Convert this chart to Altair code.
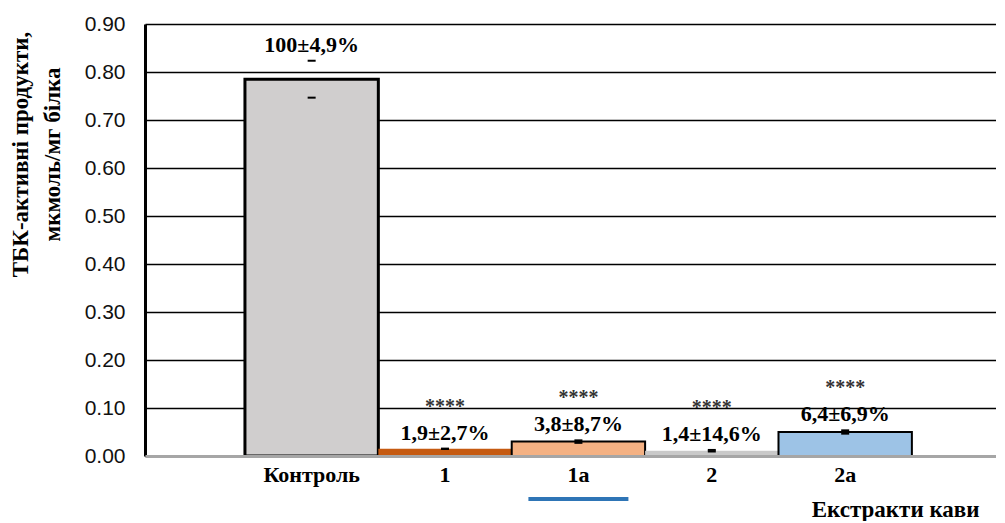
import altair as alt
import pandas as pd

categories = ["Контроль", "1", "1а", "2", "2а"]
values = [0.785, 0.015, 0.030, 0.011, 0.050]
err_pct = [4.9, 2.7, 8.7, 14.6, 6.9]
labels = ["100±4,9%", "1,9±2,7%", "3,8±8,7%", "1,4±14,6%", "6,4±6,9%"]
stars = ["", "****", "****", "****", "****"]
fills = ["#d0cece", "#c55a11", "#f4b183", "#c9c9c9", "#9dc3e6"]
stroke_widths = [3, 0, 2, 0, 2]
y_ticks = [0.0, 0.1, 0.2, 0.3, 0.4, 0.5, 0.6, 0.7, 0.8, 0.9]

df = pd.DataFrame({
    "cat": categories,
    "value": values,
    "upper": [v * (1 + e / 100) for v, e in zip(values, err_pct)],
    "lower": [v * (1 - e / 100) for v, e in zip(values, err_pct)],
    "label": labels,
    "stars": stars,
    "sw": stroke_widths,
})

SERIF = "Liberation Serif"
SANS = "Liberation Sans"

xscale = alt.Scale(domain=categories, paddingInner=0, paddingOuter=0.69, align=0.543)
yscale = alt.Scale(domain=[0, 0.9], nice=False, zero=True)

x_enc = alt.X(
    "cat:N", scale=xscale, sort=categories,
    axis=alt.Axis(
        title="Екстракти кави", labelAngle=0, ticks=False, domainColor="#a6a6a6",
        domainWidth=3, labelFont=SERIF, labelFontWeight="bold", labelFontSize=22,
        labelColor="black", labelPadding=8, titleFont=SERIF, titleFontWeight="bold",
        titleFontSize=23, titleColor="black", titleX=834, titleY=53, titleAlign="right",
        titleBaseline="middle", zindex=2,
    ),
)

y_enc = alt.Y(
    "value:Q", scale=yscale,
    axis=alt.Axis(
        title=["ТБК-активні продукти,", "мкмоль/мг білка"], values=y_ticks, format=".2f",
        ticks=False, domainColor="black", domainWidth=3, grid=True, gridColor="black",
        gridWidth=1.5, labelFont=SANS, labelFontSize=21, labelColor="#111111",
        labelPadding=20, titleFont=SERIF, titleFontWeight="bold", titleFontSize=23,
        titleColor="black", titleX=-136, titleY=130, titleAlign="center",
        titleBaseline="top", titleLineHeight=32, titleAngle=270, zindex=0,
    ),
)

bars = alt.Chart(df).mark_bar(stroke="black", opacity=1).encode(
    x=x_enc,
    y=y_enc,
    fill=alt.Fill("cat:N", scale=alt.Scale(domain=categories, range=fills), legend=None),
    strokeWidth=alt.StrokeWidth("sw:Q", scale=None),
)

cap_up = alt.Chart(df).mark_tick(orient="horizontal", size=8, thickness=2, color="black", opacity=1).encode(
    x=alt.X("cat:N", scale=xscale, sort=categories), y=alt.Y("upper:Q", scale=yscale)
)
cap_lo = alt.Chart(df).mark_tick(orient="horizontal", size=8, thickness=2, color="black", opacity=1).encode(
    x=alt.X("cat:N", scale=xscale, sort=categories), y=alt.Y("lower:Q", scale=yscale)
)

lab = alt.Chart(df).mark_text(
    font=SERIF, fontWeight="bold", fontSize=22, color="black", dy=-16, baseline="middle"
).encode(
    x=alt.X("cat:N", scale=xscale, sort=categories), y=alt.Y("upper:Q", scale=yscale), text="label:N"
)

star = alt.Chart(df).mark_text(
    font=SERIF, fontWeight="bold", fontSize=20, color="#333333", dy=-42, baseline="middle"
).encode(
    x=alt.X("cat:N", scale=xscale, sort=categories), y=alt.Y("upper:Q", scale=yscale), text="stars:N"
)

blue = alt.Chart(pd.DataFrame({"cat": ["1а"]})).mark_tick(
    orient="horizontal", size=100, thickness=4, color="#2e75b6", opacity=1
).encode(
    x=alt.X("cat:N", scale=xscale, sort=categories), y=alt.value(475)
)

chart = alt.layer(bars, cap_up, cap_lo, lab, star, blue).properties(
    width=851, height=432,
    padding={"left": 1, "top": 0, "right": 0, "bottom": 0},
).configure_view(stroke=None).configure(background="white")

chart.save("out.html", embed_options={"renderer": "svg", "actions": False})
